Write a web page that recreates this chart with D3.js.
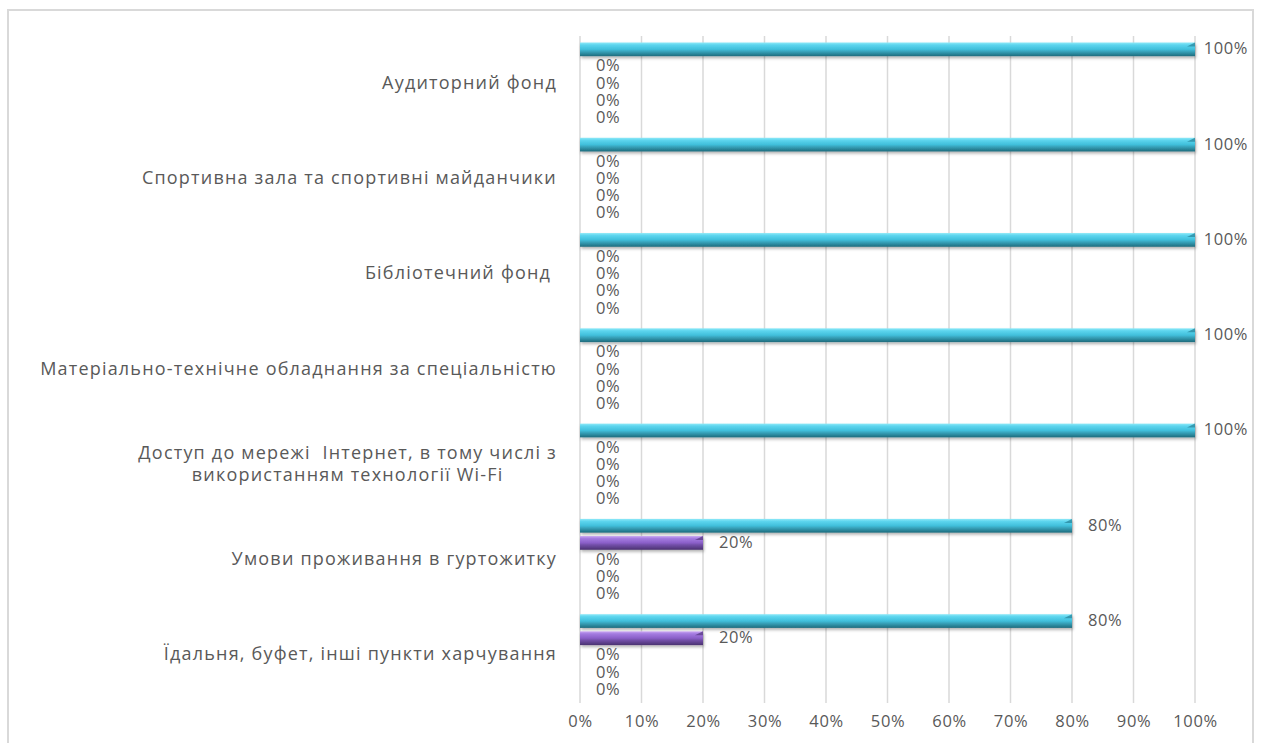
<!DOCTYPE html>
<html>
<head>
<meta charset="utf-8">
<script src="https://cdn.jsdelivr.net/npm/d3@7"></script>
<style>
  body { margin: 0; background: #fff; }
  text { font-family: "Open Sans", sans-serif; fill: #595959; }
</style>
</head>
<body>
<script>
const width = 1261;
const height = 743;
const margin = ({top: 36, right: 63, bottom: 40, left: 580});

// categories, top to bottom; "\n" splits a label into lines
const categories = [
    "Аудиторний фонд",
    "Спортивна зала та спортивні майданчики",
    "Бібліотечний фонд ",
    "Матеріально-технічне обладнання за спеціальністю",
    "Доступ до мережі  Інтернет, в тому числі з\nвикористанням технології Wi-Fi",
    "Умови проживання в гуртожитку",
    "Їдальня, буфет, інші пункти харчування"
];

const seriesNames = ["s1", "s2", "s3", "s4", "s5"];
const s1 = [1, 1, 1, 1, 1, 0.8, 0.8];
const s2 = [0, 0, 0, 0, 0, 0.2, 0.2];
const s3 = [0, 0, 0, 0, 0, 0, 0];
const s4 = [0, 0, 0, 0, 0, 0, 0];
const s5 = [0, 0, 0, 0, 0, 0, 0];
const seriesValues = [s1, s2, s3, s4, s5];

const ticks = [0, 0.1, 0.2, 0.3, 0.4, 0.5, 0.6, 0.7, 0.8, 0.9, 1];

const svg = d3.select("body")
    .append("svg")
    .attr("width", width)
    .attr("height", height);

const defs = svg.append("defs");

function gradient(id, stops) {
    const g = defs.append("linearGradient")
        .attr("id", id)
        .attr("x1", 0).attr("y1", 0).attr("x2", 0).attr("y2", 1);
    stops.forEach(function (s) {
        g.append("stop").attr("offset", s[0]).attr("stop-color", s[1]);
    });
}
gradient("g-cyan", [[0, "#8fe9f8"], [0.18, "#5dd5ee"], [0.5, "#40bfdb"], [0.62, "#3aa9c2"], [1, "#1e6b7c"]]);
gradient("g-purple", [[0, "#c9a6f2"], [0.18, "#a47be0"], [0.5, "#8a5fc8"], [0.62, "#7651ad"], [1, "#4a3170"]]);

const shadow = defs.append("filter").attr("id", "shadow")
    .attr("x", "-5%").attr("y", "-50%").attr("width", "110%").attr("height", "220%");
shadow.append("feDropShadow")
    .attr("dx", 1).attr("dy", 2).attr("stdDeviation", 1.5)
    .attr("flood-color", "#000").attr("flood-opacity", 0.3);

const fills = ["url(#g-cyan)", "url(#g-purple)", "url(#g-cyan)", "url(#g-purple)", "url(#g-cyan)"];
const bevels = ["#2a8aa0", "#5b3d88", "#2a8aa0", "#5b3d88", "#2a8aa0"];

// frame
svg.append("path")
    .attr("d", "M8," + height + "V10H1253V" + height)
    .attr("fill", "none")
    .attr("stroke", "#d9d9d9")
    .attr("stroke-width", 2);

const x = d3.scaleLinear()
    .domain([0, 1])
    .range([margin.left, width - margin.right - 3]);

const y = d3.scaleBand()
    .domain(categories)
    .range([margin.top, height - margin.bottom])
    .paddingInner(0.1)
    .paddingOuter(0.05);

const ys = d3.scaleBand()
    .domain(seriesNames)
    .range([0, y.bandwidth()]);

// gridlines
svg.append("g")
    .selectAll("line")
    .data(ticks)
    .join("line")
    .attr("x1", function (d) { return x(d); })
    .attr("x2", function (d) { return x(d); })
    .attr("y1", margin.top)
    .attr("y2", height - margin.bottom)
    .attr("stroke", "#d9d9d9")
    .attr("stroke-width", 1.5);

// x axis labels
svg.append("g")
    .attr("transform", "translate(0," + (height - margin.bottom) + ")")
    .call(d3.axisBottom(x).tickValues(ticks).tickFormat(d3.format(".0%")).tickSize(0).tickPadding(12))
    .call(function (g) { g.select(".domain").remove(); })
    .selectAll("text")
    .style("font-family", "Open Sans, sans-serif")
    .style("font-size", "16.5px")
    .style("letter-spacing", "0.6px")
    .attr("fill", "#595959");

// category labels
const labelRight = 557;
categories.forEach(function (c) {
    const lines = c.split("\n");
    const cy = y(c) + y.bandwidth() / 2;
    const t = svg.append("text")
        .attr("text-anchor", "middle")
        .style("font-size", "18px")
        .style("letter-spacing", "1.2px")
        .style("white-space", "pre");
    lines.forEach(function (l, i) {
        t.append("tspan")
            .attr("dy", i === 0 ? 0 : 22)
            .text(l);
    });
    let w = 0;
    t.selectAll("tspan").each(function () { w = Math.max(w, this.getComputedTextLength()); });
    const x0 = labelRight - w / 2;
    t.selectAll("tspan").attr("x", x0);
    t.attr("y", cy - (lines.length - 1) * 11 + 5);
});

// bars and labels
const barH = ys.bandwidth() * 0.8;
seriesValues.forEach(function (vals, si) {
    const g = svg.append("g");
    categories.forEach(function (c, ci) {
        const v = vals[ci];
        const top = y(c) + ys(seriesNames[si]) + (ys.bandwidth() - barH) / 2;
        if (v > 0) {
            g.append("rect")
                .attr("x", x(0))
                .attr("y", top)
                .attr("width", x(v) - x(0))
                .attr("height", barH)
                .attr("fill", fills[si])
                .attr("filter", "url(#shadow)");
            // bevel on the right end
            g.append("path")
                .attr("d", "M" + x(v) + "," + top + "l-8,4h8z")
                .attr("fill", bevels[si])
                .attr("opacity", 0.8);
        }
        const lbl = g.append("text")
            .attr("y", top + barH / 2 + 5)
            .style("font-size", "16.5px")
            .style("letter-spacing", "0.6px")
            .text(d3.format(".0%")(v));
        const lw = lbl.node().getComputedTextLength();
        lbl.attr("x", Math.min(x(v) + 16, 1248 - lw));
    });
});
</script>
</body>
</html>
